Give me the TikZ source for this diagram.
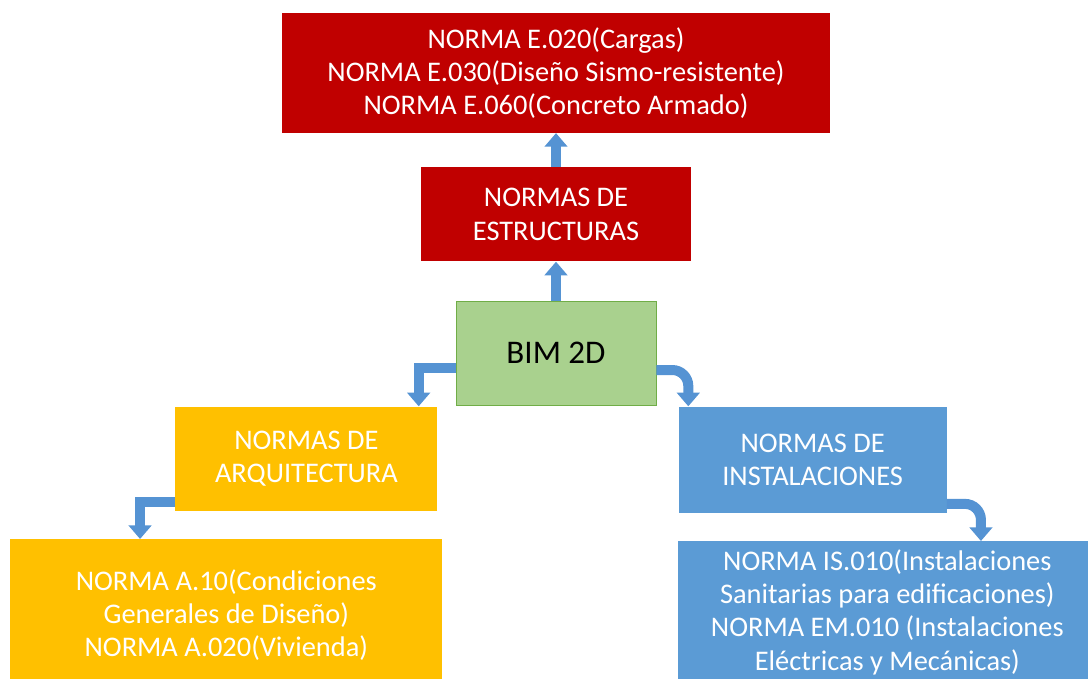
\documentclass[tikz,border=0pt]{standalone}
\usepackage{fontspec}
\setmainfont{Carlito}
\usetikzlibrary{positioning,calc,arrows.meta}

\definecolor{redbox}{HTML}{C00000}
\definecolor{orangebox}{HTML}{FFC000}
\definecolor{bluebox}{HTML}{5B9BD5}
\definecolor{greenbox}{HTML}{A9D18E}
\definecolor{greenline}{HTML}{70AD47}
\definecolor{arrowblue}{HTML}{5593D3}

\begin{document}
\begin{tikzpicture}[
    x=0.025cm, y=-0.025cm,
    box/.style={rectangle, align=center, inner sep=0pt, text=white,
        font=\fontsize{20.2}{23.6}\selectfont},
    arrow/.style={-{Triangle[width=0.56cm,length=0.34cm]}, line width=0.25cm, draw=arrowblue}
]
\useasboundingbox (0,0) rectangle (1088,679);
\clip (0,0) rectangle (1088,679);

\node[box, fill=greenbox, draw=greenline, thin, text=black, font=\fontsize{23.5}{28}\selectfont, minimum width=5cm, minimum height=2.6cm] (bim) at (556,353) {BIM 2D};
\node[box, fill=redbox, minimum width=6.75cm, minimum height=2.35cm, above=0.975cm of bim] (estr) {NORMAS DE\\ESTRUCTURAS};
\node[box, fill=redbox, minimum width=13.7cm, minimum height=3cm, above=0.85cm of estr] (top) {NORMA E.020(Cargas)\\NORMA E.030(Diseño Sismo-resistente)\\NORMA E.060(Concreto Armado)};
\node[box, fill=orangebox, minimum width=6.55cm, minimum height=2.6cm, below left=0.025cm and 0.45cm of bim.south west] (arq) {NORMAS DE\\ARQUITECTURA};
\node[box, fill=bluebox, minimum width=6.7cm, minimum height=2.65cm, below right=0.025cm and 0.55cm of bim.south east] (inst) {NORMAS DE\\INSTALACIONES};
\node[box, fill=orangebox, minimum width=10.8cm, minimum height=3.8cm, anchor=north west] (arqn) at (10,539) {NORMA A.10(Condiciones\\Generales de Diseño)\\NORMA A.020(Vivienda)};
\node[box, fill=bluebox, minimum width=10.45cm, minimum height=3.55cm, anchor=north west] (instn) at (678,541) {NORMA IS.010(Instalaciones\\Sanitarias para edificaciones)\\NORMA EM.010 (Instalaciones\\Eléctricas y Mecánicas)};

\draw[arrow] (estr.north) -- (top.south);
\draw[arrow] (bim.north) -- (estr.south);
\draw[arrow] ($(bim.west)+(0,15)$) -| ($(arq.north east)+(-19,0)$);
\draw[arrow, rounded corners=0.4cm] ($(bim.east)+(0,17)$) -| ($(inst.north west)+(10,0)$);
\draw[arrow] ($(arq.south west)+(0,-9)$) -| ($(arq.south west |- arqn.north)+(-35,0)$);
\draw[arrow, rounded corners=0.4cm] ($(inst.south east)+(0,-9)$) -| ($(inst.south east |- instn.north)+(34,0)$);
\end{tikzpicture}
\end{document}
